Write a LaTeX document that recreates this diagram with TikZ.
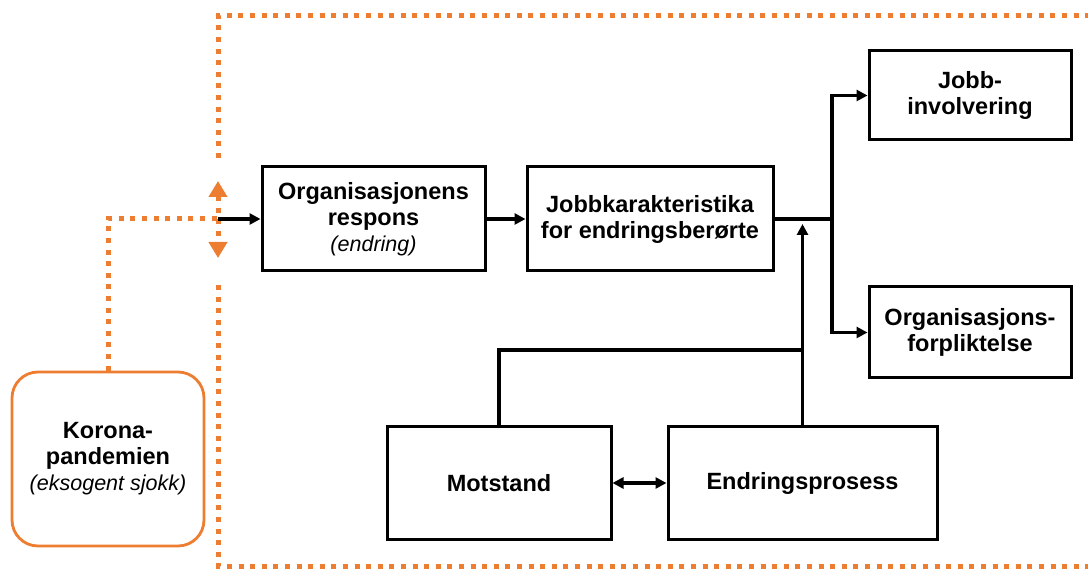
\documentclass[tikz,border=0pt]{standalone}
\usepackage{fontspec}
\setmainfont{Liberation Sans}
\usetikzlibrary{arrows.meta}
\definecolor{corona}{HTML}{ED7D31}
\newcommand{\subnotefont}{\fontsize{21.5}{26}\selectfont\mdseries\itshape}
\tikzset{
  box/.style={draw=black, line width=3pt, fill=white, inner sep=0pt, align=center,
    font=\fontsize{23.5}{26}\selectfont\bfseries},
  link/.style={line width=3.2pt, draw=black},
  arr/.style={link, -{Triangle[length=11pt,width=11pt]}},
  biarr/.style={link, {Triangle[length=11pt,width=11pt]}-{Triangle[length=11pt,width=11pt]}},
  odot/.style={draw=corona, line width=5pt, dash pattern=on 5pt off 6.6pt},
  oarr/.style={odot, {Triangle[length=16pt,width=18pt]}-{Triangle[length=16pt,width=18pt]}}
}
\begin{document}
\begin{tikzpicture}[x=1pt, y=-1pt]
\path[use as bounding box] (0,0) rectangle (1088,569);

% boxes of the model
\node[box, draw=corona, line width=2.8pt, rounded corners=26pt,
      minimum width=192pt, minimum height=174pt] (korona) at (108,459)
  {Korona-\\pandemien\\{\subnotefont (eksogent sjokk)}};
\node[box, minimum width=223pt, minimum height=104pt] (org) at (373.5,219)
  {Organisasjonens\\respons\\{\subnotefont (endring)}};
\node[box, minimum width=246pt, minimum height=104pt] (jobbk) at (650,219)
  {Jobbkarakteristika\\for endringsberørte};
\node[box, minimum width=202pt, minimum height=89pt] (jobbinv) at (970,95.5)
  {Jobb-\\involvering};
\node[box, minimum width=202pt, minimum height=91pt] (orgforp) at (970,332.5)
  {Organisasjons-\\forpliktelse};
\node[box, minimum width=224pt, minimum height=112pt] (motstand) at (499,483)
  {Motstand};
\node[box, minimum width=269pt, minimum height=112pt] (endring) at (802.5,483)
  {Endringsprosess};

% junction points
\coordinate (gate) at (218,219);
\coordinate (split) at (832,219);
\coordinate (uptip) at (802.5,224);
\coordinate (join) at (802.5,350);

% frame of the organisation (dotted orange)
\coordinate (ftopgap) at (218,158);
\coordinate (ftl) at (218,16);
\coordinate (ftr) at (1090,16);
\coordinate (fbotgap) at (218,285);
\coordinate (fbl) at (218,566);
\coordinate (fbr) at (1090,566);
\draw[odot] (ftopgap) -- (ftl) -- (ftr);
\draw[odot] (fbotgap) -- (fbl) -- (fbr);
\coordinate (oup) at (218,181);
\coordinate (odown) at (218,258);
\draw[oarr] (oup) -- (odown);

% shock entering the organisation
\draw[odot] (korona.north) |- (gate);
\draw[arr] (gate) -- (org.west);

% main chain
\draw[arr] (org) -- (jobbk);
\draw[link] (jobbk.east) -- (split);
\draw[arr] (split) |- (jobbinv.west);
\draw[arr] (split) |- (orgforp.west);

% moderators
\draw[arr] (endring.north) -- (uptip);
\draw[link] (motstand.north) |- (join);
\draw[biarr] (motstand) -- (endring);
\end{tikzpicture}
\end{document}
